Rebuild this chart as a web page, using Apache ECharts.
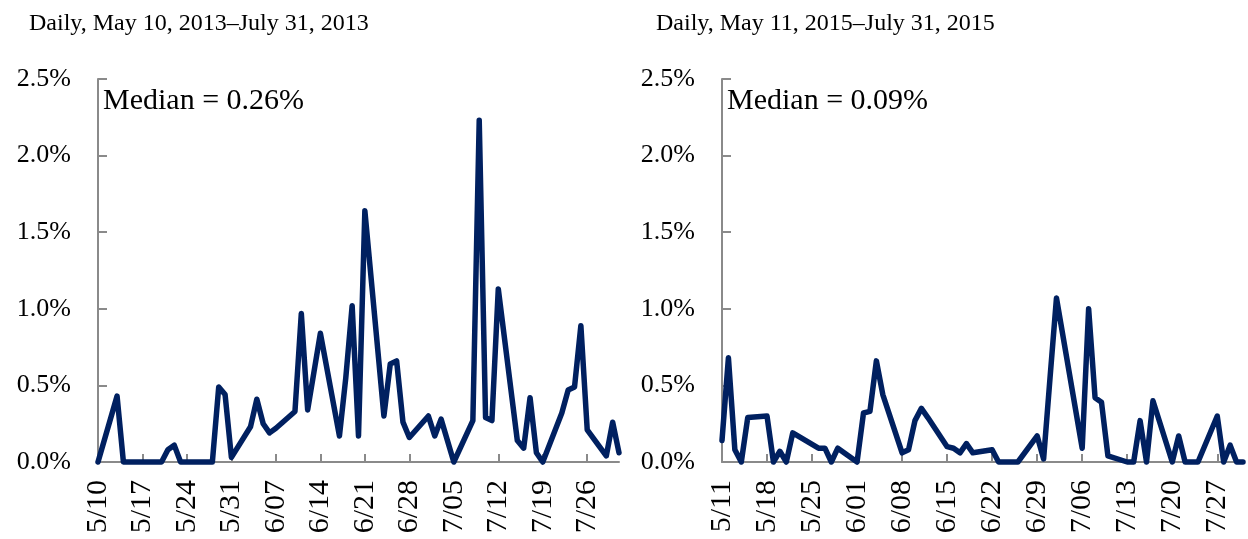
<!DOCTYPE html>
<html>
<head>
<meta charset="utf-8">
<script src="https://cdn.jsdelivr.net/npm/echarts@6/dist/echarts.min.js"></script>
<style>
  html, body { margin: 0; padding: 0; background: #fff; }
  #main { width: 1248px; height: 539px; }
</style>
</head>
<body>
<div id="main"></div>
<script>
// 2013 panel: trading days and value (%)
var dates2013 = [
  "05-10", "05-13", "05-14", "05-15", "05-16", "05-17", "05-20", "05-21", "05-22", "05-23",
  "05-24", "05-28", "05-29", "05-30", "05-31", "06-03", "06-04", "06-05", "06-06", "06-07",
  "06-10", "06-11", "06-12", "06-13", "06-14", "06-17", "06-18", "06-19", "06-20", "06-21",
  "06-24", "06-25", "06-26", "06-27", "06-28", "07-01", "07-02", "07-03", "07-05", "07-08",
  "07-09", "07-10", "07-11", "07-12", "07-15", "07-16", "07-17", "07-18", "07-19", "07-22",
  "07-23", "07-24", "07-25", "07-26", "07-29", "07-30", "07-31"
];
var values2013 = [
  0, 0.43, 0, 0, 0, 0, 0, 0.08, 0.11, 0,
  0, 0, 0.49, 0.44, 0.03, 0.23, 0.41, 0.25, 0.19, 0.22,
  0.33, 0.97, 0.34, 0.59, 0.84, 0.17, 0.55, 1.02, 0.17, 1.64,
  0.30, 0.64, 0.66, 0.26, 0.16, 0.30, 0.17, 0.28, 0, 0.27,
  2.23, 0.29, 0.27, 1.13, 0.14, 0.09, 0.42, 0.06, 0, 0.32,
  0.47, 0.49, 0.89, 0.21, 0.04, 0.26, 0.06
];
var ticks2013 = ["5/10", "5/17", "5/24", "5/31", "6/07", "6/14", "6/21", "6/28", "7/05", "7/12", "7/19", "7/26"];

// 2015 panel
var dates2015 = [
  "05-11", "05-12", "05-13", "05-14", "05-15", "05-18", "05-19", "05-20", "05-21", "05-22",
  "05-26", "05-27", "05-28", "05-29", "06-01", "06-02", "06-03", "06-04", "06-05", "06-08",
  "06-09", "06-10", "06-11", "06-12", "06-15", "06-16", "06-17", "06-18", "06-19", "06-22",
  "06-23", "06-24", "06-25", "06-26", "06-29", "06-30", "07-01", "07-02", "07-06", "07-07",
  "07-08", "07-09", "07-10", "07-13", "07-14", "07-15", "07-16", "07-17", "07-20", "07-21",
  "07-22", "07-23", "07-24", "07-27", "07-28", "07-29", "07-30", "07-31"
];
var values2015 = [
  0.14, 0.68, 0.08, 0, 0.29, 0.30, 0, 0.07, 0, 0.19,
  0.09, 0.09, 0, 0.09, 0, 0.32, 0.33, 0.66, 0.44, 0.06,
  0.08, 0.27, 0.35, 0.29, 0.10, 0.09, 0.06, 0.12, 0.06, 0.08,
  0, 0, 0, 0, 0.17, 0.02, 0.55, 1.07, 0.09, 1.00,
  0.42, 0.39, 0.04, 0, 0, 0.27, 0, 0.40, 0, 0.17,
  0, 0, 0, 0.30, 0, 0.11, 0, 0
];
var ticks2015 = ["5/11", "5/18", "5/25", "6/01", "6/08", "6/15", "6/22", "6/29", "7/06", "7/13", "7/20", "7/27"];

var FONT = "Liberation Serif";
var AXIS_GRAY = "#8a8a8a";
var NAVY = "#002060";

function dayOffset(year, d, first) {
  return Math.round((Date.parse(year + "-" + d) - Date.parse(year + "-" + first)) / 86400000);
}
function toPoints(year, dates, values) {
  return dates.map(function (d, i) { return [dayOffset(year, d, dates[0]), values[i]]; });
}
function tickPos(labels) {
  return labels.map(function (l, i) { return i * 7; });
}

function xAxisFor(idx, labels, maxDay) {
  return {
    type: "value",
    gridIndex: idx,
    min: 0,
    max: maxDay,
    interval: 7,
    axisLine: { show: true, lineStyle: { color: AXIS_GRAY, width: 2 } },
    axisTick: { show: true, inside: true, length: 8, lineStyle: { color: AXIS_GRAY, width: 2 },
                customValues: tickPos(labels) },
    splitLine: { show: false },
    axisLabel: {
      rotate: 90,
      margin: 18,
      fontFamily: FONT,
      fontSize: 30,
      color: "#000",
      customValues: tickPos(labels),
      formatter: function (v) { return labels[Math.round(v / 7)] || ""; }
    }
  };
}
function yAxisFor(idx) {
  return {
    type: "value",
    gridIndex: idx,
    min: 0,
    max: 2.5,
    interval: 0.5,
    axisLine: { show: true, lineStyle: { color: AXIS_GRAY, width: 2 } },
    axisTick: { show: true, inside: true, length: 9, lineStyle: { color: AXIS_GRAY, width: 2 } },
    splitLine: { show: false },
    axisLabel: {
      margin: 27,
      fontFamily: FONT,
      fontSize: 26,
      color: "#000",
      formatter: function (v) { return v.toFixed(1) + "%"; }
    }
  };
}
function lineSeries(idx, data) {
  return {
    type: "line",
    xAxisIndex: idx,
    yAxisIndex: idx,
    data: data,
    showSymbol: false,
    clip: false,
    lineStyle: { color: NAVY, width: 5.5, cap: "round", join: "round" },
    z: 5
  };
}

var chart = echarts.init(document.getElementById("main"));
chart.setOption({
  animation: false,
  title: [
    { text: "Daily, May 10, 2013\u2013July 31, 2013", left: 24, top: 7,
      textStyle: { fontFamily: FONT, fontSize: 24, fontWeight: "normal", color: "#000" } },
    { text: "Daily, May 11, 2015\u2013July 31, 2015", left: 651, top: 7,
      textStyle: { fontFamily: FONT, fontSize: 24, fontWeight: "normal", color: "#000" } },
    { text: "Median = 0.26%", left: 98, top: 81,
      textStyle: { fontFamily: FONT, fontSize: 30, fontWeight: "normal", color: "#000" } },
    { text: "Median = 0.09%", left: 722, top: 81,
      textStyle: { fontFamily: FONT, fontSize: 30, fontWeight: "normal", color: "#000" } }
  ],
  grid: [
    { left: 98, top: 79, width: 521, height: 383 },
    { left: 722, top: 79, width: 521, height: 383 }
  ],
  xAxis: [xAxisFor(0, ticks2013, 82), xAxisFor(1, ticks2015, 81)],
  yAxis: [yAxisFor(0), yAxisFor(1)],
  series: [
    lineSeries(0, toPoints(2013, dates2013, values2013)),
    lineSeries(1, toPoints(2015, dates2015, values2015))
  ]
});
</script>
</body>
</html>
